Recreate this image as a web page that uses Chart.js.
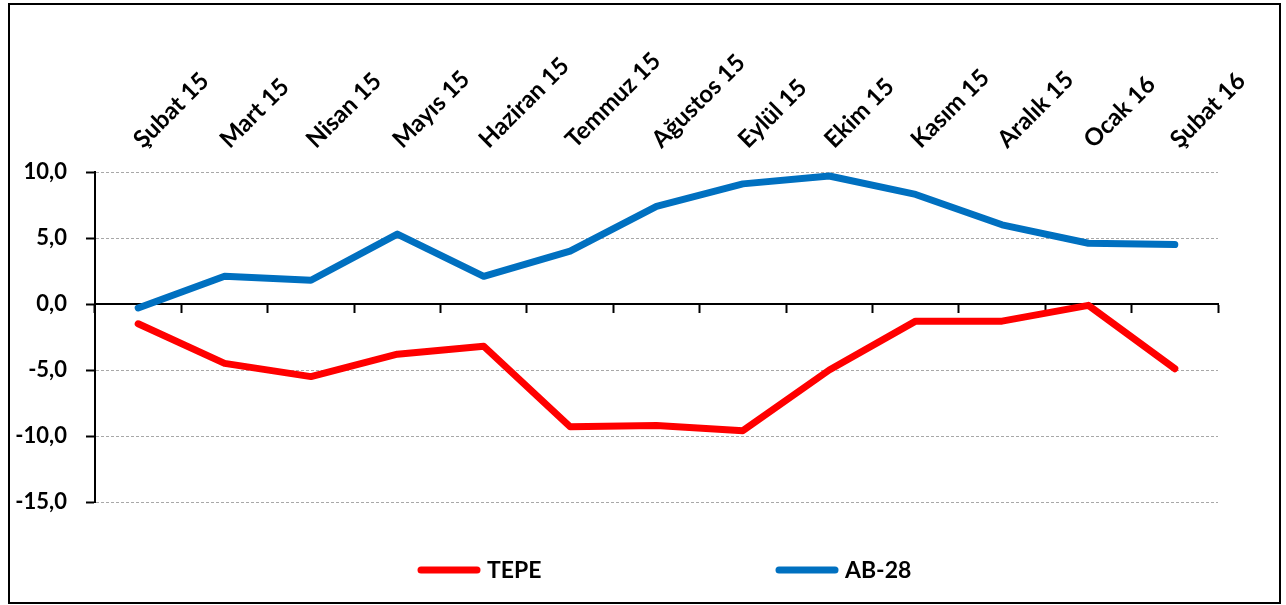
<!DOCTYPE html>
<html>
<head>
<meta charset="utf-8">
<script src="https://cdn.jsdelivr.net/npm/chart.js@4/dist/chart.umd.min.js"></script>
<style>
  body { margin: 0; background: #fff; }
  #wrap { position: relative; width: 1286px; height: 605px; }
  #frame {
    position: absolute; left: 8px; top: 3px; width: 1273px; height: 601px;
    box-sizing: border-box; border: 2px solid #000; pointer-events: none;
  }
  canvas { position: absolute; left: 0; top: 0; }
</style>
</head>
<body>
<div id="wrap">
  <canvas id="chart" width="1286" height="605"></canvas>
  <div id="frame"></div>
</div>
<script>
// ---- data ----
const months = ['Şubat 15', 'Mart 15', 'Nisan 15', 'Mayıs 15', 'Haziran 15', 'Temmuz 15', 'Ağustos 15',
  'Eylül 15', 'Ekim 15', 'Kasım 15', 'Aralık 15', 'Ocak 16', 'Şubat 16'];
const tepe = [-1.5, -4.5, -5.5, -3.8, -3.2, -9.3, -9.2, -9.6, -5.0, -1.3, -1.3, -0.1, -4.9];
const ab28 = [-0.3, 2.1, 1.8, 5.3, 2.1, 4.0, 7.4, 9.1, 9.7, 8.3, 6.0, 4.6, 4.5];
const yMin = -15;
const yMax = 10;
const yStep = 5;

const FONT = 'Lato';

// legend drawn as thick line + bold label
const lineLegend = {
  id: 'lineLegend',
  afterDraw(chart, args, opts) {
    const ctx = chart.ctx;
    ctx.save();
    chart.data.datasets.forEach((ds, i) => {
      const x = opts.xs[i];
      ctx.strokeStyle = ds.borderColor;
      ctx.lineWidth = 7;
      ctx.lineCap = 'round';
      ctx.beginPath();
      ctx.moveTo(x, opts.y);
      ctx.lineTo(x + 56, opts.y);
      ctx.stroke();
      ctx.fillStyle = '#000';
      ctx.font = 'bold 23px ' + FONT;
      ctx.textBaseline = 'middle';
      ctx.textAlign = 'left';
      ctx.fillText(ds.label, x + 66, opts.y + 1);
    });
    ctx.restore();
  }
};

function fmt(v) {
  return v.toFixed(1).replace('.', ',');
}

new Chart(document.getElementById('chart'), {
  type: 'line',
  data: {
    labels: months,
    datasets: [
      {
        label: 'TEPE',
        data: tepe,
        borderColor: '#ff0000',
        borderWidth: 7,
        borderCapStyle: 'round',
        borderJoinStyle: 'round',
        pointRadius: 0,
        tension: 0,
        xAxisID: 'x',
        order: 1
      },
      {
        label: 'AB-28',
        data: ab28,
        borderColor: '#0070c0',
        borderWidth: 7,
        borderCapStyle: 'round',
        borderJoinStyle: 'round',
        pointRadius: 0,
        tension: 0,
        xAxisID: 'x',
        order: 2
      }
    ]
  },
  options: {
    responsive: false,
    animation: false,
    layout: { padding: { left: 0, right: 68, top: 0, bottom: 103 } },
    plugins: {
      legend: { display: false },
      tooltip: { enabled: false },
      lineLegend: { xs: [421, 779], y: 570 }
    },
    scales: {
      x: {
        type: 'category',
        position: { y: 0 },
        offset: true,
        ticks: { display: false },
        grid: {
          offset: true,
          drawOnChartArea: false,
          drawTicks: true,
          tickLength: 8,
          tickWidth: 2,
          tickColor: '#000'
        },
        border: { display: true, color: '#000', width: 2 }
      },
      x2: {
        type: 'category',
        position: 'top',
        labels: months,
        offset: true,
        grid: { display: false },
        border: { display: false },
        ticks: {
          minRotation: 45,
          maxRotation: 45,
          autoSkip: false,
          padding: 10,
          labelOffset: 20,
          color: '#000',
          font: { family: FONT, weight: 'bold', size: 24 }
        },
        afterFit(scale) { scale.height = 172; }
      },
      y: {
        min: yMin,
        max: yMax,
        ticks: {
          stepSize: yStep,
          padding: 19,
          color: '#000',
          font: { family: FONT, weight: 'bold', size: 22 },
          callback: (v) => fmt(v)
        },
        grid: {
          color: (c) => (c.tick && c.tick.value === 0 ? 'rgba(0,0,0,0)' : '#a8a8a8'),
          lineWidth: 1,
          tickLength: 9,
          tickWidth: 2,
          tickColor: '#000',
          tickBorderDash: []
        },
        border: { display: true, color: '#000', width: 2, dash: [3, 2] },
        afterFit(scale) { scale.width = 95; }
      }
    }
  },
  plugins: [lineLegend]
});
</script>
</body>
</html>
